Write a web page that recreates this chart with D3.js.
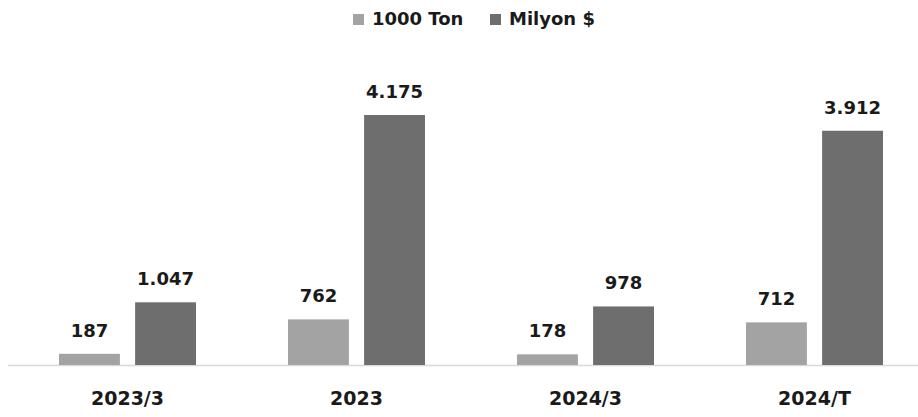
<!DOCTYPE html>
<html>
<head>
<meta charset="utf-8">
<script src="https://cdn.jsdelivr.net/npm/d3@7"></script>
<style>
  html, body { margin: 0; padding: 0; background: #ffffff; }
  svg { display: block; }
  text { font-family: "DejaVu Sans", sans-serif; font-weight: bold; fill: #1a1a1a; }
</style>
</head>
<body>
<svg id="chart" width="918" height="417"></svg>
<script>
const categories = ["2023/3", "2023", "2024/3", "2024/T"];
const seriesNames = ["1000 Ton", "Milyon $"];
const tonValues = [187, 762, 178, 712];
const usdValues = [1047, 4175, 978, 3912];
const seriesColors = ["#a3a3a3", "#6e6e6e"];

const W = 918, H = 417;
const baseY = 365, topY = 115;

const svg = d3.select("#chart");
const locale = d3.formatLocale({ decimal: ",", thousands: ".", grouping: [3], currency: ["", "$"] });
const fmt = locale.format(",");

const seriesData = [tonValues, usdValues];
const rows = categories.map((c, i) => ({ cat: c, vals: seriesNames.map((s, j) => ({ s, j, v: seriesData[j][i] })) }));

const x0 = d3.scaleBand().domain(categories).range([13, 929]).padding(0);
const x1 = d3.scaleBand().domain(seriesNames).range([46, 183]).paddingInner(0.2).paddingOuter(0);
const maxV = d3.max(usdValues.concat(tonValues));
const y = d3.scaleLinear().domain([0, maxV]).range([baseY, topY]);

// baseline
svg.append("line")
  .attr("x1", 8).attr("x2", W).attr("y1", baseY + 0.5).attr("y2", baseY + 0.5)
  .attr("stroke", "#d9d9d9").attr("stroke-width", 1.5);

const g = svg.selectAll("g.grp").data(rows).enter().append("g")
  .attr("class", "grp")
  .attr("transform", d => `translate(${x0(d.cat)},0)`);

g.selectAll("rect").data(d => d.vals).enter().append("rect")
  .attr("x", d => x1(d.s))
  .attr("width", x1.bandwidth())
  .attr("y", d => y(d.v))
  .attr("height", d => baseY - y(d.v))
  .attr("fill", d => seriesColors[d.j]);

g.selectAll("text.val").data(d => d.vals).enter().append("text")
  .attr("class", "val")
  .attr("x", d => x1(d.s) + x1.bandwidth() / 2)
  .attr("y", d => y(d.v) - 17)
  .attr("text-anchor", "middle")
  .attr("font-size", 18)
  .text(d => fmt(d.v));

// category axis labels
const xAxis = d3.axisBottom(x0).tickSize(0).tickPadding(0);
const axG = svg.append("g").attr("transform", `translate(0,${baseY})`).call(xAxis);
axG.select(".domain").remove();
axG.selectAll("text")
  .attr("y", 40)
  .attr("dy", 0)
  .attr("font-size", 19)
  .attr("font-family", "DejaVu Sans, sans-serif")
  .attr("font-weight", "bold")
  .attr("fill", "#1a1a1a");

// legend
const legendX = [353, 490];
const lg = svg.selectAll("g.leg").data(seriesNames).enter().append("g")
  .attr("class", "leg")
  .attr("transform", (d, i) => `translate(${legendX[i]},0)`);
lg.append("rect").attr("x", 0).attr("y", 14).attr("width", 11).attr("height", 11)
  .attr("fill", (d, i) => seriesColors[i]);
lg.append("text").attr("x", 19).attr("y", 25).attr("font-size", 18).text(d => d);
</script>
</body>
</html>
